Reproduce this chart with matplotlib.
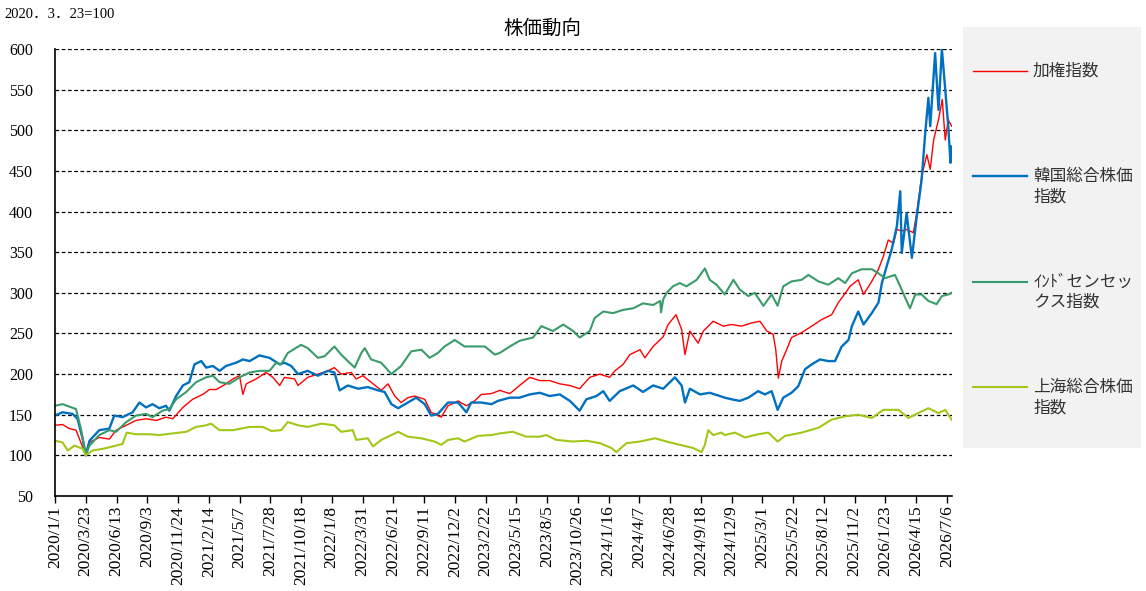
import matplotlib
matplotlib.use("Agg")
import matplotlib.pyplot as plt
import pandas as pd

# 2020/3/23 = 100
taiex_dates = ["2020-01-01", "2020-01-21", "2020-02-08", "2020-02-26", "2020-03-15", "2020-03-23", "2020-04-02", "2020-04-28",
               "2020-05-25", "2020-06-12", "2020-07-09", "2020-08-04", "2020-08-31", "2020-09-27", "2020-10-23", "2020-11-10",
               "2020-12-07", "2021-01-02", "2021-01-29", "2021-02-16", "2021-03-06", "2021-04-01", "2021-04-19", "2021-05-07",
               "2021-05-16", "2021-05-25", "2021-06-20", "2021-07-17", "2021-08-04", "2021-08-22", "2021-09-04", "2021-10-01",
               "2021-10-10", "2021-11-05", "2021-12-02", "2021-12-29", "2022-01-15", "2022-02-02", "2022-03-01", "2022-03-14",
               "2022-04-01", "2022-04-23", "2022-05-20", "2022-06-07", "2022-06-25", "2022-07-12", "2022-07-30", "2022-08-17",
               "2022-09-13", "2022-09-30", "2022-10-27", "2022-11-14", "2022-12-11", "2023-01-02", "2023-01-24", "2023-02-11",
               "2023-03-10", "2023-04-01", "2023-04-28", "2023-05-24", "2023-06-20", "2023-07-17", "2023-08-12", "2023-09-08",
               "2023-10-05", "2023-10-31", "2023-11-27", "2023-12-24", "2024-01-19", "2024-02-02", "2024-02-24", "2024-03-13",
               "2024-04-09", "2024-04-22", "2024-05-14", "2024-06-10", "2024-06-23", "2024-07-14", "2024-07-29", "2024-08-07",
               "2024-08-20", "2024-09-11", "2024-09-25", "2024-10-21", "2024-11-17", "2024-12-09", "2025-01-05", "2025-02-01",
               "2025-02-23", "2025-03-13", "2025-03-30", "2025-04-06", "2025-04-13", "2025-04-22", "2025-05-05", "2025-05-18",
               "2025-06-14", "2025-07-11", "2025-08-06", "2025-09-02", "2025-09-20", "2025-10-03", "2025-10-21", "2025-11-12",
               "2025-11-26", "2025-12-18", "2026-01-05", "2026-01-18", "2026-01-31", "2026-02-14", "2026-02-23", "2026-03-08",
               "2026-03-21", "2026-04-08", "2026-04-17", "2026-04-30", "2026-05-14", "2026-05-23", "2026-06-01", "2026-06-14",
               "2026-06-24", "2026-07-02", "2026-07-10", "2026-07-19"]
taiex = [137, 138, 133, 131, 110, 100, 116, 122,
         120, 131, 137, 143, 145, 143, 147, 145,
         159, 169, 175, 181, 181, 188, 194, 198,
         175, 188, 194, 202, 196, 186, 196, 194,
         186, 196, 200, 204, 208, 200, 202, 194,
         198, 190, 180, 188, 173, 165, 171, 173,
         169, 153, 147, 161, 167, 161, 167, 175,
         176, 180, 176, 186, 196, 192, 192, 188,
         186, 182, 196, 200, 196, 204, 212, 224,
         230, 220, 234, 246, 261, 273, 255, 224,
         253, 238, 253, 265, 259, 261, 259, 263,
         265, 253, 249, 230, 195, 216, 230, 245,
         251, 259, 267, 273, 288, 296, 308, 316,
         298, 314, 329, 345, 365, 361, 378, 376,
         378, 374, 398, 443, 470, 452, 488, 513,
         538, 488, 513, 505]

kospi_dates = ["2020-01-01", "2020-01-21", "2020-02-17", "2020-03-01", "2020-03-15", "2020-03-23", "2020-04-02", "2020-04-28",
               "2020-05-25", "2020-06-07", "2020-06-29", "2020-07-26", "2020-08-13", "2020-08-31", "2020-09-17", "2020-10-05",
               "2020-10-23", "2020-11-01", "2020-11-19", "2020-12-07", "2020-12-24", "2021-01-07", "2021-01-25", "2021-02-07",
               "2021-02-25", "2021-03-15", "2021-04-01", "2021-04-28", "2021-05-16", "2021-06-03", "2021-06-29", "2021-07-26",
               "2021-08-22", "2021-09-04", "2021-09-22", "2021-10-10", "2021-11-05", "2021-12-02", "2021-12-29", "2022-01-15",
               "2022-01-29", "2022-02-20", "2022-03-19", "2022-04-14", "2022-05-11", "2022-05-29", "2022-06-16", "2022-07-04",
               "2022-07-30", "2022-08-21", "2022-09-13", "2022-09-30", "2022-10-18", "2022-11-14", "2022-12-11", "2023-01-02",
               "2023-01-15", "2023-02-11", "2023-03-10", "2023-03-27", "2023-04-28", "2023-05-24", "2023-06-20", "2023-07-17",
               "2023-08-12", "2023-09-08", "2023-10-05", "2023-10-31", "2023-11-18", "2023-12-15", "2024-01-02", "2024-01-19",
               "2024-02-15", "2024-03-22", "2024-04-17", "2024-05-14", "2024-06-10", "2024-07-11", "2024-07-29", "2024-08-07",
               "2024-08-20", "2024-09-16", "2024-10-12", "2024-11-08", "2024-11-21", "2024-12-09", "2024-12-31", "2025-01-23",
               "2025-02-18", "2025-03-08", "2025-03-26", "2025-04-11", "2025-04-26", "2025-05-18", "2025-06-05", "2025-06-23",
               "2025-07-11", "2025-08-02", "2025-08-24", "2025-09-11", "2025-09-29", "2025-10-17", "2025-10-26", "2025-11-12",
               "2025-11-26", "2025-12-18", "2026-01-05", "2026-01-14", "2026-01-27", "2026-02-09", "2026-02-23", "2026-03-04",
               "2026-03-08", "2026-03-21", "2026-04-04", "2026-04-17", "2026-04-30", "2026-05-09", "2026-05-18", "2026-05-23",
               "2026-06-05", "2026-06-14", "2026-06-23", "2026-07-02", "2026-07-10", "2026-07-16", "2026-07-19"]
kospi = [149, 153, 151, 145, 120, 100, 118, 131,
         133, 149, 147, 153, 165, 159, 163, 158,
         161, 155, 173, 186, 190, 212, 216, 208,
         210, 204, 210, 214, 218, 216, 223, 220,
         212, 214, 210, 200, 204, 198, 204, 202,
         180, 186, 182, 184, 180, 178, 163, 158,
         165, 171, 163, 149, 151, 165, 165, 153,
         165, 165, 163, 167, 171, 171, 175, 177,
         173, 175, 167, 155, 169, 173, 179, 167,
         179, 186, 178, 186, 182, 196, 186, 165,
         182, 175, 177, 173, 171, 169, 167, 171,
         179, 175, 179, 156, 171, 177, 185, 206,
         212, 218, 216, 216, 234, 242, 259, 277,
         261, 275, 288, 312, 333, 353, 382, 425,
         349, 398, 343, 394, 439, 493, 540, 505,
         595, 525, 600, 550, 505, 460, 480]

sensex_dates = ["2020-01-01", "2020-01-21", "2020-02-08", "2020-02-26", "2020-03-10", "2020-03-23", "2020-04-02", "2020-04-28",
                "2020-05-25", "2020-06-12", "2020-07-09", "2020-08-04", "2020-08-31", "2020-09-17", "2020-10-14", "2020-11-01",
                "2020-11-19", "2020-12-16", "2021-01-11", "2021-02-07", "2021-02-25", "2021-03-15", "2021-04-10", "2021-05-07",
                "2021-06-03", "2021-06-29", "2021-07-26", "2021-08-13", "2021-08-26", "2021-09-13", "2021-10-18", "2021-11-05",
                "2021-12-02", "2021-12-20", "2022-01-15", "2022-02-02", "2022-02-20", "2022-03-10", "2022-03-28", "2022-04-06",
                "2022-04-23", "2022-05-20", "2022-06-16", "2022-07-12", "2022-08-08", "2022-09-04", "2022-09-26", "2022-10-18",
                "2022-11-05", "2022-12-02", "2022-12-28", "2023-01-24", "2023-02-20", "2023-03-19", "2023-04-01", "2023-04-28",
                "2023-05-24", "2023-06-29", "2023-07-21", "2023-08-21", "2023-09-17", "2023-10-14", "2023-10-31", "2023-11-27",
                "2023-12-10", "2024-01-02", "2024-01-28", "2024-02-24", "2024-03-22", "2024-04-17", "2024-05-14", "2024-06-02",
                "2024-06-04", "2024-06-10", "2024-06-19", "2024-07-06", "2024-07-24", "2024-08-11", "2024-09-07", "2024-09-29",
                "2024-10-12", "2024-10-30", "2024-11-21", "2024-12-14", "2024-12-31", "2025-01-23", "2025-02-09", "2025-03-04",
                "2025-03-26", "2025-04-11", "2025-04-26", "2025-05-18", "2025-06-14", "2025-07-02", "2025-07-29", "2025-08-24",
                "2025-09-20", "2025-10-08", "2025-10-26", "2025-11-21", "2025-12-18", "2026-01-05", "2026-01-22", "2026-02-18",
                "2026-03-04", "2026-03-17", "2026-03-30", "2026-04-13", "2026-04-30", "2026-05-18", "2026-06-09", "2026-06-23",
                "2026-07-10", "2026-07-19"]
sensex = [161, 163, 160, 157, 133, 100, 112, 125,
          131, 129, 141, 149, 151, 147, 155, 157,
          169, 178, 190, 196, 198, 190, 188, 196,
          202, 204, 204, 214, 212, 226, 236, 232,
          220, 222, 234, 224, 216, 208, 226, 232,
          218, 214, 200, 210, 228, 230, 220, 226,
          234, 242, 234, 234, 234, 224, 226, 234,
          241, 245, 259, 253, 261, 253, 245, 253,
          269, 277, 275, 279, 281, 287, 285, 290,
          276, 292, 300, 308, 312, 308, 316, 330,
          316, 310, 298, 316, 304, 296, 300, 284,
          298, 284, 308, 314, 316, 322, 314, 310,
          318, 312, 324, 329, 329, 324, 318, 322,
          308, 294, 281, 298, 298, 290, 286, 296,
          298, 300]

shanghai_dates = ["2020-01-01", "2020-01-21", "2020-02-04", "2020-02-22", "2020-03-15", "2020-03-23", "2020-04-10", "2020-05-07",
                  "2020-06-12", "2020-06-29", "2020-07-10", "2020-08-04", "2020-09-09", "2020-10-05", "2020-11-10", "2020-12-16",
                  "2021-01-11", "2021-02-07", "2021-02-20", "2021-03-15", "2021-04-19", "2021-06-03", "2021-07-08", "2021-07-31",
                  "2021-08-26", "2021-09-13", "2021-10-10", "2021-11-05", "2021-12-11", "2022-01-15", "2022-02-02", "2022-03-05",
                  "2022-03-14", "2022-04-14", "2022-04-28", "2022-05-20", "2022-06-16", "2022-07-04", "2022-07-30", "2022-09-04",
                  "2022-10-09", "2022-10-27", "2022-11-14", "2022-12-11", "2022-12-28", "2023-02-02", "2023-03-10", "2023-04-01",
                  "2023-05-06", "2023-06-11", "2023-07-17", "2023-08-03", "2023-08-30", "2023-10-14", "2023-11-18", "2023-12-24",
                  "2024-01-24", "2024-02-06", "2024-03-04", "2024-04-09", "2024-05-19", "2024-06-19", "2024-07-24", "2024-08-29",
                  "2024-09-20", "2024-09-29", "2024-10-08", "2024-10-21", "2024-11-12", "2024-11-21", "2024-12-18", "2025-01-14",
                  "2025-02-18", "2025-03-17", "2025-04-11", "2025-05-01", "2025-06-14", "2025-07-29", "2025-09-02", "2025-10-08",
                  "2025-11-12", "2025-12-18", "2026-01-18", "2026-02-27", "2026-03-26", "2026-04-21", "2026-05-18", "2026-06-14",
                  "2026-07-02", "2026-07-19"]
shanghai = [118, 116, 106, 112, 108, 100, 106, 108,
            112, 114, 128, 126, 126, 125, 127, 129,
            135, 137, 139, 131, 131, 135, 135, 130,
            131, 141, 137, 135, 139, 137, 129, 131,
            119, 121, 111, 119, 125, 129, 123, 121,
            117, 113, 119, 121, 117, 124, 125, 127,
            129, 123, 123, 125, 119, 117, 118, 115,
            109, 104, 115, 117, 121, 117, 113, 109,
            104, 113, 131, 125, 128, 125, 128, 122,
            126, 128, 117, 124, 128, 134, 144, 148,
            150, 146, 156, 156, 146, 152, 158, 152,
            156, 144]

series_names = ["加権指数", "韓国総合株価\n指数", "ｲﾝﾄﾞセンセッ\nクス指数", "上海総合株価\n指数"]
series_colors = ["#FF0000", "#0070C0", "#3A9B6B", "#A2C719"]
series_widths = [1.0, 1.7, 1.5, 1.5]

tick_labels = ["2020/1/1", "2020/3/23", "2020/6/13", "2020/9/3", "2020/11/24", "2021/2/14", "2021/5/7", "2021/7/28",
               "2021/10/18", "2022/1/8", "2022/3/31", "2022/6/21", "2022/9/11", "2022/12/2", "2023/2/22", "2023/5/15",
               "2023/8/5", "2023/10/26", "2024/1/16", "2024/4/7", "2024/6/28", "2024/9/18", "2024/12/9", "2025/3/1",
               "2025/5/22", "2025/8/12", "2025/11/2", "2026/1/23", "2026/4/15", "2026/7/6"]

plt.rcParams['font.family'] = ['Liberation Serif', 'Noto Sans CJK JP']

W, H = 1146, 591
fig = plt.figure(figsize=(W / 100, H / 100), dpi=100)
ax = fig.add_axes([55 / W, 1 - 496 / H, (952 - 55) / W, (496 - 49) / H])

data = [(taiex_dates, taiex), (kospi_dates, kospi), (sensex_dates, sensex), (shanghai_dates, shanghai)]
for (d, v), c, lw in zip(data, series_colors, series_widths):
    ax.plot(pd.to_datetime(d), v, color=c, lw=lw, solid_joinstyle='round')

ax.set_ylim(50, 600)
ax.set_yticks(range(50, 601, 50))
ax.set_xlim(pd.Timestamp("2020-01-01"), pd.Timestamp("2026-07-20"))
ax.set_xticks(pd.to_datetime(tick_labels, format="%Y/%m/%d"))
ax.set_xticklabels(tick_labels, rotation=90, fontsize=12.5)
ax.tick_params(axis='y', length=0, pad=16, labelsize=11.5)
ax.tick_params(axis='x', length=5, width=1, pad=2, direction='out')

for v in range(100, 601, 50):
    ax.axhline(v, color='black', lw=0.9, ls=(0, (3, 2)), zorder=0)

for s in ['top', 'right']:
    ax.spines[s].set_visible(False)
for s in ['left', 'bottom']:
    ax.spines[s].set_linewidth(1.2)
    ax.spines[s].set_color('black')

fig.text(542 / W, 1 - 28 / H, "株価動向", ha='center', va='center', fontsize=14,
         family=['Noto Sans CJK JP'])
fig.text(4 / W, 1 - 14 / H, "2020．3．23=100", ha='left', va='center', fontsize=10.5)

# legend panel
lx0, lx1, ly0, ly1 = 963, 1141, 27, 448
lax = fig.add_axes([lx0 / W, 1 - ly1 / H, (lx1 - lx0) / W, (ly1 - ly0) / H])
lax.set_facecolor('#F2F2F2')
lax.set_xlim(lx0, lx1)
lax.set_ylim(ly1, ly0)
lax.set_xticks([])
lax.set_yticks([])
for s in lax.spines.values():
    s.set_visible(False)
for i, (name, c, lw) in enumerate(zip(series_names, series_colors, series_widths)):
    y = 71 + i * 105.3
    lax.plot([973, 1027], [y, y], color=c, lw=lw)
    lax.text(1033, y - 8, name, ha='left', va='top', fontsize=12, color='#333333',
             family=['Noto Sans CJK JP'], linespacing=1.25)

fig.savefig("out.png", dpi=100)
